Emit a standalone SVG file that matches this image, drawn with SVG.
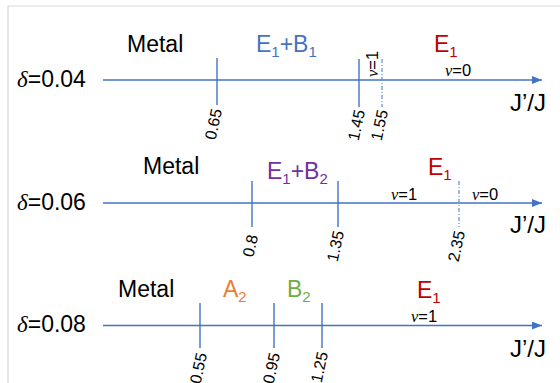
<svg xmlns="http://www.w3.org/2000/svg" width="560" height="383" viewBox="0 0 560 383">
<defs>
<style>
.ax{stroke:#4472C4;stroke-width:1.6;fill:none}
.tk{stroke:#4472C4;stroke-width:1.4;fill:none}
.dt{stroke:#5B8FD6;stroke-width:1.2;fill:none;stroke-dasharray:4 2 1 2}
.lb{font-family:"Liberation Sans",Arial,sans-serif;font-size:23px;fill:#000}
.dl{font-family:"Liberation Sans",Arial,sans-serif;font-size:23px;fill:#000}
.gr{font-family:"Liberation Serif","Times New Roman",serif;font-style:italic}
.tl{font-family:"Liberation Sans",Arial,sans-serif;font-size:16px;fill:#000;text-anchor:end}
.nu{font-family:"Liberation Sans",Arial,sans-serif;font-size:16.5px;fill:#000}
.jj{font-family:"Liberation Sans",Arial,sans-serif;font-size:24px;fill:#000}
.blue{fill:#4472C4}.red{fill:#C00000}.pur{fill:#7030A0}.org{fill:#ED7D31}.grn{fill:#70AD47}
.sub{font-size:15px}
</style>
<marker id="arr" viewBox="0 0 10 8" refX="10" refY="4" markerWidth="10" markerHeight="8" markerUnits="userSpaceOnUse" orient="auto">
<path d="M0,0 L10,4 L0,8 z" fill="#4472C4"/>
</marker>
</defs>
<rect width="560" height="383" fill="#fff"/>
<path d="M8,383 V6 H560" stroke="#d9d9d9" stroke-width="1.2" fill="none"/>

<g id="connectors">
<line class="ax" x1="103" y1="80" x2="542" y2="80" marker-end="url(#arr)"/>
<line class="tk" x1="217" y1="58" x2="217" y2="105"/>
<line class="tk" x1="359" y1="59" x2="359" y2="107"/>
<line class="dt" x1="382" y1="59" x2="382" y2="107"/>

<line class="ax" x1="103" y1="203" x2="542" y2="203" marker-end="url(#arr)"/>
<line class="tk" x1="252" y1="181" x2="252" y2="227"/>
<line class="tk" x1="338" y1="181" x2="338" y2="227"/>
<line class="dt" x1="459" y1="181" x2="459" y2="227"/>

<line class="ax" x1="103" y1="325.5" x2="542" y2="325.5" marker-end="url(#arr)"/>
<line class="tk" x1="200" y1="303" x2="200" y2="348"/>
<line class="tk" x1="274" y1="303" x2="274" y2="348"/>
<line class="tk" x1="322" y1="303" x2="322" y2="348"/>
</g>

<g id="row1">
<text class="dl" x="17" y="87"><tspan class="gr">δ</tspan>=0.04</text>
<text class="lb" x="127" y="52">Metal</text>
<text class="lb blue" x="256" y="52">E<tspan class="sub" dy="5">1</tspan><tspan dy="-5">+B</tspan><tspan class="sub" dy="5">1</tspan></text>
<text class="lb red" x="434" y="52">E<tspan class="sub" dy="5">1</tspan></text>
<text class="nu" transform="translate(377.5,77) rotate(-90)"><tspan class="gr">ν</tspan>=1</text>
<text class="nu" x="445" y="76"><tspan class="gr">ν</tspan>=0</text>
<text class="jj" x="510" y="111">J’/J</text>
<text class="tl" transform="translate(222,110) rotate(-78)">0.65</text>
<text class="tl" transform="translate(365,111) rotate(-78)">1.45</text>
<text class="tl" transform="translate(388,111) rotate(-78)">1.55</text>
</g>

<g id="row2">
<text class="dl" x="17" y="210"><tspan class="gr">δ</tspan>=0.06</text>
<text class="lb" x="143" y="174">Metal</text>
<text class="lb pur" x="267" y="179">E<tspan class="sub" dy="5">1</tspan><tspan dy="-5">+B</tspan><tspan class="sub" dy="5">2</tspan></text>
<text class="lb red" x="428" y="175">E<tspan class="sub" dy="5">1</tspan></text>
<text class="nu" x="391" y="200"><tspan class="gr">ν</tspan>=1</text>
<text class="nu" x="472" y="200"><tspan class="gr">ν</tspan>=0</text>
<text class="jj" x="510" y="233">J’/J</text>
<text class="tl" transform="translate(258,236) rotate(-78)">0.8</text>
<text class="tl" transform="translate(344,232) rotate(-78)">1.35</text>
<text class="tl" transform="translate(465,232) rotate(-78)">2.35</text>
</g>

<g id="row3">
<text class="dl" x="17" y="332"><tspan class="gr">δ</tspan>=0.08</text>
<text class="lb" x="118" y="297">Metal</text>
<text class="lb org" x="223" y="297">A<tspan class="sub" dy="5">2</tspan></text>
<text class="lb grn" x="287" y="297">B<tspan class="sub" dy="5">2</tspan></text>
<text class="lb red" x="417" y="298">E<tspan class="sub" dy="5">1</tspan></text>
<text class="nu" x="411" y="322"><tspan class="gr">ν</tspan>=1</text>
<text class="jj" x="510" y="357">J’/J</text>
<text class="tl" transform="translate(207,354) rotate(-78)">0.55</text>
<text class="tl" transform="translate(280,354) rotate(-78)">0.95</text>
<text class="tl" transform="translate(328,353) rotate(-78)">1.25</text>
</g>
</svg>
